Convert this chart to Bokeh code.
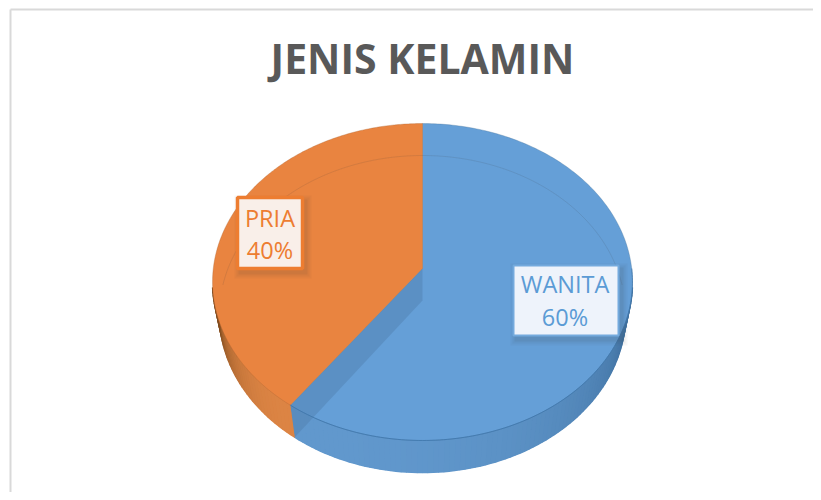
import numpy as np
from bokeh.plotting import figure
from bokeh.models import Range1d
from bokeh.embed import file_html
from bokeh.resources import INLINE
from bokeh.core.properties import value

TITLE = "JENIS KELAMIN"
CATEGORIES = ["WANITA", "PRIA"]
SHARES = [60, 40]
COLORS = ["#5B9BD5", "#ED7D31"]

p = figure(width=813, height=492, output_backend="svg", toolbar_location=None,
           x_range=Range1d(0, 813), y_range=Range1d(492, 0), min_border=0,
           x_axis_type=None, y_axis_type=None, outline_line_color=None,
           background_fill_color="white", border_fill_color="white")
p.grid.visible = False

# chart frame
p.segment([10, 10], [9, 9], [10, 813], [492, 9], line_color="#d9d9d9", line_width=2)

# perspective projection of the pie disc
CX, TOP_APEX, DEPTH = 422.0, 268.0, 32.0
C, A, D = 0.0852, -134.5, 209.2
BOTTOM_SCALE = 0.967


def proj(theta, dz=0.0, k=1.0):
    """theta clockwise from 12 o'clock"""
    u, v = np.sin(theta), np.cos(theta)
    w = 1 + C * v
    return CX + k * D * u / w, (A * v + TOP_APEX) / w + dz


def low(theta):
    return proj(theta, DEPTH, BOTTOM_SCALE)


def mix(a, b, t):
    ca = [int(a[i:i + 2], 16) for i in (1, 3, 5)]
    cb = [int(b[i:i + 2], 16) for i in (1, 3, 5)]
    return "#%02x%02x%02x" % tuple(int(round(x + (y - x) * t)) for x, y in zip(ca, cb))


fractions = np.cumsum([0] + SHARES) / sum(SHARES)
t0, t1 = fractions[0] * 2 * np.pi, fractions[1] * 2 * np.pi
t2 = fractions[2] * 2 * np.pi

# front wall: strips from the widest point round to the other side
front_start, front_end = np.pi / 2 + 0.12, 3 * np.pi / 2 - 0.12
n = 120
edges = np.linspace(front_start, front_end, n + 1)
xs, ys, cols = [], [], []
for a0, a1 in zip(edges[:-1], edges[1:]):
    mid = (a0 + a1) / 2
    xa0, ya0 = proj(a0)
    xa1, ya1 = proj(a1)
    xb0, yb0 = low(a0)
    xb1, yb1 = low(a1)
    xs.append([xa0, xa1, xb1, xb0])
    ys.append([ya0, ya1, yb1, yb0])
    if mid < t1:
        s = (t1 - mid) / (t1 - front_start)
        cols.append(mix("#6198cd", "#3b6a98", s ** 2.6))
    else:
        s = (mid - t1) / (front_end - t1)
        cols.append(mix("#dc8444", "#6b4018", s ** 2.2))
# under-layer closes the seams between the strips, upper layer keeps them crisp
p.patches(xs, ys, fill_color=cols, line_color=cols, line_width=1.6)
p.patches(xs, ys, fill_color=cols, line_color=None)

# top surfaces
for share_i, (a, b) in enumerate([(t0, t1), (t1, t2)]):
    th = np.linspace(a, b, 240)
    x, y = proj(th)
    p.patch(np.r_[CX, x], np.r_[TOP_APEX, y],
            fill_color={0: "#659fd7", 1: "#e98440"}[share_i],
            line_color=mix(COLORS[share_i], "#404040", 0.35), line_width=0.6, line_alpha=0.6)

# cut wall seen through the blue slice
xr, yr = proj(t1)
xl, yl = low(t1)
p.patch([xr, CX, CX, xl], [yr, TOP_APEX, TOP_APEX + DEPTH, yl],
        fill_color="#4f7fae", fill_alpha=0.45, line_color=None)

# back rim of the lower disc, seen through the top
order = np.r_[np.linspace(3 * np.pi / 2 + 0.1, 2 * np.pi, 90), np.linspace(0, np.pi / 2 - 0.1, 90)]
x, y = low(order)
p.line(x, y, line_color="#404040", line_alpha=0.16, line_width=0.8)

# front edge of the blue top
th = np.linspace(t0 + np.pi / 2, t1, 120)
x, y = proj(th)
p.line(x, y, line_color="#3f77ad", line_alpha=0.8, line_width=1)

# data labels
boxes = [
    (CATEGORIES[0], SHARES[0], 513, 618, 265, 335, "#eef3fb", "#74aadd", 2, COLORS[0], 283, 316),
    (CATEGORIES[1], SHARES[1], 237, 302, 197, 268, "#f9efe9", "#ed7d31", 3.5, COLORS[1], 217, 249),
]
for cat, share, x0, x1, y0, y1, fill, edge, lw, tcol, y_cat, y_val in boxes:
    for grow, alpha in [(6, 0.04), (4, 0.05), (2, 0.07)]:
        p.quad(left=[x0 + 3 - grow], right=[x1 + 3 + grow], top=[y0 + 4 - grow], bottom=[y1 + 4 + grow],
               fill_color="#3b3b3b", fill_alpha=alpha, line_color=None)
    p.quad(left=[x0], right=[x1], top=[y0], bottom=[y1], fill_color=fill,
           line_color=edge, line_width=lw)
    xc = (x0 + x1) / 2 - (1 if cat == CATEGORIES[0] else 0)
    p.text([xc], [y_cat], text=[cat], text_align="center", text_baseline="middle",
           text_font=value("Open Sans"), text_font_size="23.5px", text_color=tcol)
    p.text([xc], [y_val], text=[f"{share}%"], text_align="center", text_baseline="middle",
           text_font=value("Open Sans"), text_font_size="23.5px", text_color=tcol)

p.text([422], [57], text=[TITLE], text_align="center", text_baseline="middle",
       text_font=value("Open Sans"), text_font_style="bold", text_font_size="41px",
       text_color="#595959")

open("out.html", "w").write(file_html(p, INLINE))
